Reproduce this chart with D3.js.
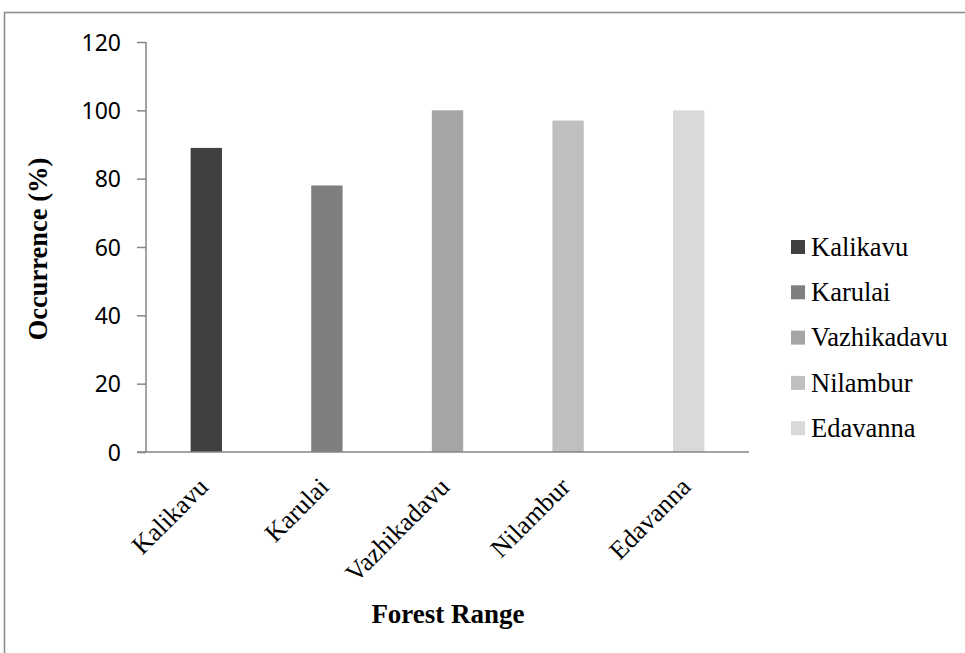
<!DOCTYPE html>
<html>
<head>
<meta charset="utf-8">
<script src="https://cdn.jsdelivr.net/npm/d3@7"></script>
<style>
  html, body { margin: 0; padding: 0; background: #fff; }
  svg { display: block; }
</style>
</head>
<body>
<svg id="chart" width="965" height="653"></svg>
<script>
// Occurrence (%) by forest range
const ranges = ["Kalikavu", "Karulai", "Vazhikadavu", "Nilambur", "Edavanna"];
const occurrence = [89, 78, 100, 97, 100];
const barColors = ["#404040", "#7f7f7f", "#a5a5a5", "#bfbfbf", "#d9d9d9"];
const yTicks = [0, 20, 40, 60, 80, 100, 120];

const serif = "'Liberation Serif', 'Times New Roman', serif";
const svg = d3.select("#chart");
const plot = { left: 146, right: 749, top: 42, bottom: 452 };

// outer chart frame (runs off the right and bottom edges)
svg.append("rect")
  .attr("x", 4.5).attr("y", 12.5)
  .attr("width", 1000).attr("height", 700)
  .attr("fill", "none")
  .attr("stroke", "#8f8f8f")
  .attr("stroke-width", 1.6);

const x = d3.scaleBand().domain(ranges).range([plot.left, plot.right]).paddingInner(0.74).paddingOuter(0.37);
const y = d3.scaleLinear().domain([0, 120]).range([plot.bottom, plot.top]);

const color = d3.scaleOrdinal().domain(ranges).range(barColors);

// y axis
const yAxis = svg.append("g")
  .attr("transform", `translate(${plot.left},0)`)
  .call(d3.axisLeft(y).tickValues(yTicks).tickSize(9).tickPadding(16).tickFormat(d3.format("d")));
yAxis.select(".domain").attr("stroke", "#868686").attr("stroke-width", 1.5).attr("d", `M0,${plot.top}V${plot.bottom}`);
yAxis.selectAll(".tick line").attr("stroke", "#868686").attr("stroke-width", 1.5);
yAxis.selectAll(".tick text")
  .attr("fill", "#000")
  .style("font-family", "'Noto Sans', 'Open Sans', sans-serif")
  .style("font-size", "23px")
  .attr("dy", "0.36em");

// bars
svg.append("g").selectAll("rect")
  .data(ranges)
  .join("rect")
  .attr("x", d => x(d))
  .attr("width", x.bandwidth())
  .attr("y", (d, i) => y(occurrence[i]))
  .attr("height", (d, i) => y(0) - y(occurrence[i]))
  .attr("fill", d => color(d));

// x axis line with rotated category labels
const xAxis = svg.append("g")
  .attr("transform", `translate(0,${plot.bottom})`)
  .call(d3.axisBottom(x).tickSize(0).tickPadding(0));
xAxis.select(".domain").attr("stroke", "#868686").attr("stroke-width", 1.5).attr("d", `M${plot.left - 9},0H${plot.right}`);
xAxis.selectAll(".tick text")
  .attr("fill", "#000")
  .style("font-family", serif)
  .style("font-size", "26px")
  .attr("text-anchor", "end")
  .attr("transform", "translate(-3,30) rotate(-45)")
  .attr("dy", "0.35em")
  .attr("y", 0);

// axis titles
svg.append("text")
  .attr("transform", `translate(47,${(plot.top + plot.bottom) / 2 + 2}) rotate(-90)`)
  .attr("text-anchor", "middle")
  .style("font-family", serif)
  .style("font-weight", "bold")
  .style("font-size", "26.5px")
  .text("Occurrence (%)");

svg.append("text")
  .attr("x", 448).attr("y", 623)
  .attr("text-anchor", "middle")
  .style("font-family", serif)
  .style("font-weight", "bold")
  .style("font-size", "27px")
  .text("Forest Range");

// legend
const legend = svg.append("g").attr("transform", "translate(791,247)");
const item = legend.selectAll("g")
  .data(ranges)
  .join("g")
  .attr("transform", (d, i) => `translate(0,${i * 45.3})`);
item.append("rect")
  .attr("x", 0).attr("y", -7)
  .attr("width", 14).attr("height", 14)
  .attr("fill", d => color(d));
item.append("text")
  .attr("x", 20).attr("y", 0)
  .attr("dy", "0.33em")
  .style("font-family", serif)
  .style("font-size", "26.5px")
  .text(d => d);
</script>
</body>
</html>
